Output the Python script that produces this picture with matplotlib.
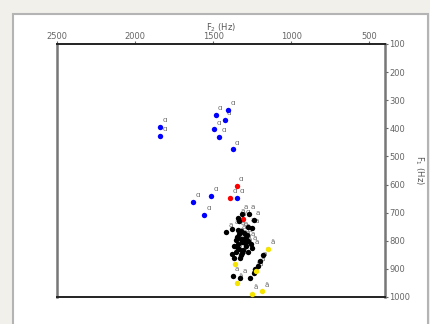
import matplotlib
matplotlib.use("Agg")
import matplotlib.pyplot as plt
from matplotlib.patches import Rectangle

# vowel tokens, F2 / F1 in Hz
blue_f2 = [1838, 1839, 1483, 1403, 1425, 1492, 1460, 1373, 1627, 1511, 1557, 1345]
blue_f1 = [394, 428, 352, 335, 370, 404, 430, 475, 661, 640, 709, 649]

red_f2 = [1349, 1392, 1306]
red_f1 = [606, 648, 723]

black_f2 = [1339, 1317, 1271, 1241, 1334, 1415, 1377, 1275, 1250, 1334, 1303, 1324,
            1292, 1355, 1275, 1339, 1313, 1366, 1292, 1260, 1334, 1309, 1355, 1279,
            1377, 1324, 1250, 1366, 1330, 1180, 1199, 1212, 1233, 1241, 1266, 1373,
            1326, 1345, 1320, 1298, 1350, 1285, 1318, 1340, 1305]
black_f1 = [720, 706, 706, 725, 730, 768, 758, 751, 754, 777, 773, 792,
            787, 797, 801, 813, 806, 818, 820, 813, 830, 834, 839, 839,
            848, 851, 827, 863, 863, 852, 872, 889, 901, 915, 932, 925,
            932, 785, 765, 808, 823, 780, 845, 760, 795]

yellow_f2 = [1147, 1360, 1223, 1348, 1254, 1185]
yellow_f1 = [828, 884, 908, 950, 990, 980]

fig = plt.figure(figsize=(4.3, 3.24), dpi=100)
fig.patch.set_facecolor('#f1f0eb')
panel = Rectangle((13/430, -0.1), 415/430, 310/324 + 0.1, transform=fig.transFigure,
                  fc='white', ec='#b4b4b4', lw=1.5, zorder=-10)
fig.patches.append(panel)

ax = fig.add_axes([57/430, 1 - 297/324, 328/430, 253/324])
ax.set_facecolor('white')

groups = [(blue_f2, blue_f1, 'blue', 'ɑ'),
          (red_f2, red_f1, 'red', 'ɑ'),
          (black_f2, black_f1, 'black', 'a'),
          (yellow_f2, yellow_f1, '#f5e400', 'ä')]
for f2, f1, col, lab in groups:
    ax.scatter(f2, f1, s=15, color=col, zorder=3, linewidths=0)
    for x, y in zip(f2, f1):
        ax.annotate(lab, (x, y), xytext=(1.5, 3.5), textcoords='offset points',
                    fontsize=5.2, color='#6a6a6a', zorder=2)

ax.set_xlim(2500, 400)
ax.set_ylim(1000, 100)
ax.set_xticks([2500, 2000, 1500, 1000, 500])
ax.set_yticks(range(100, 1001, 100))

ax.xaxis.tick_top()
ax.xaxis.set_label_position('top')
ax.yaxis.tick_right()
ax.yaxis.set_label_position('right')
ax.tick_params(axis='both', labelsize=6, colors='#666666', length=2, width=0.8, pad=1)
ax.tick_params(axis='x', pad=0.5)

ax.set_xlabel('F$_2$ (Hz)', fontsize=6, color='#555555', labelpad=1)
ax.set_ylabel('F$_1$ (Hz)', fontsize=6, color='#555555', rotation=-90, labelpad=11)

for side in ['top', 'bottom']:
    ax.spines[side].set_color('#222222')
    ax.spines[side].set_linewidth(1.4)
for side in ['left', 'right']:
    ax.spines[side].set_color('#777777')
    ax.spines[side].set_linewidth(1.8)

fig.savefig('out.png', dpi=100, facecolor=fig.get_facecolor())
